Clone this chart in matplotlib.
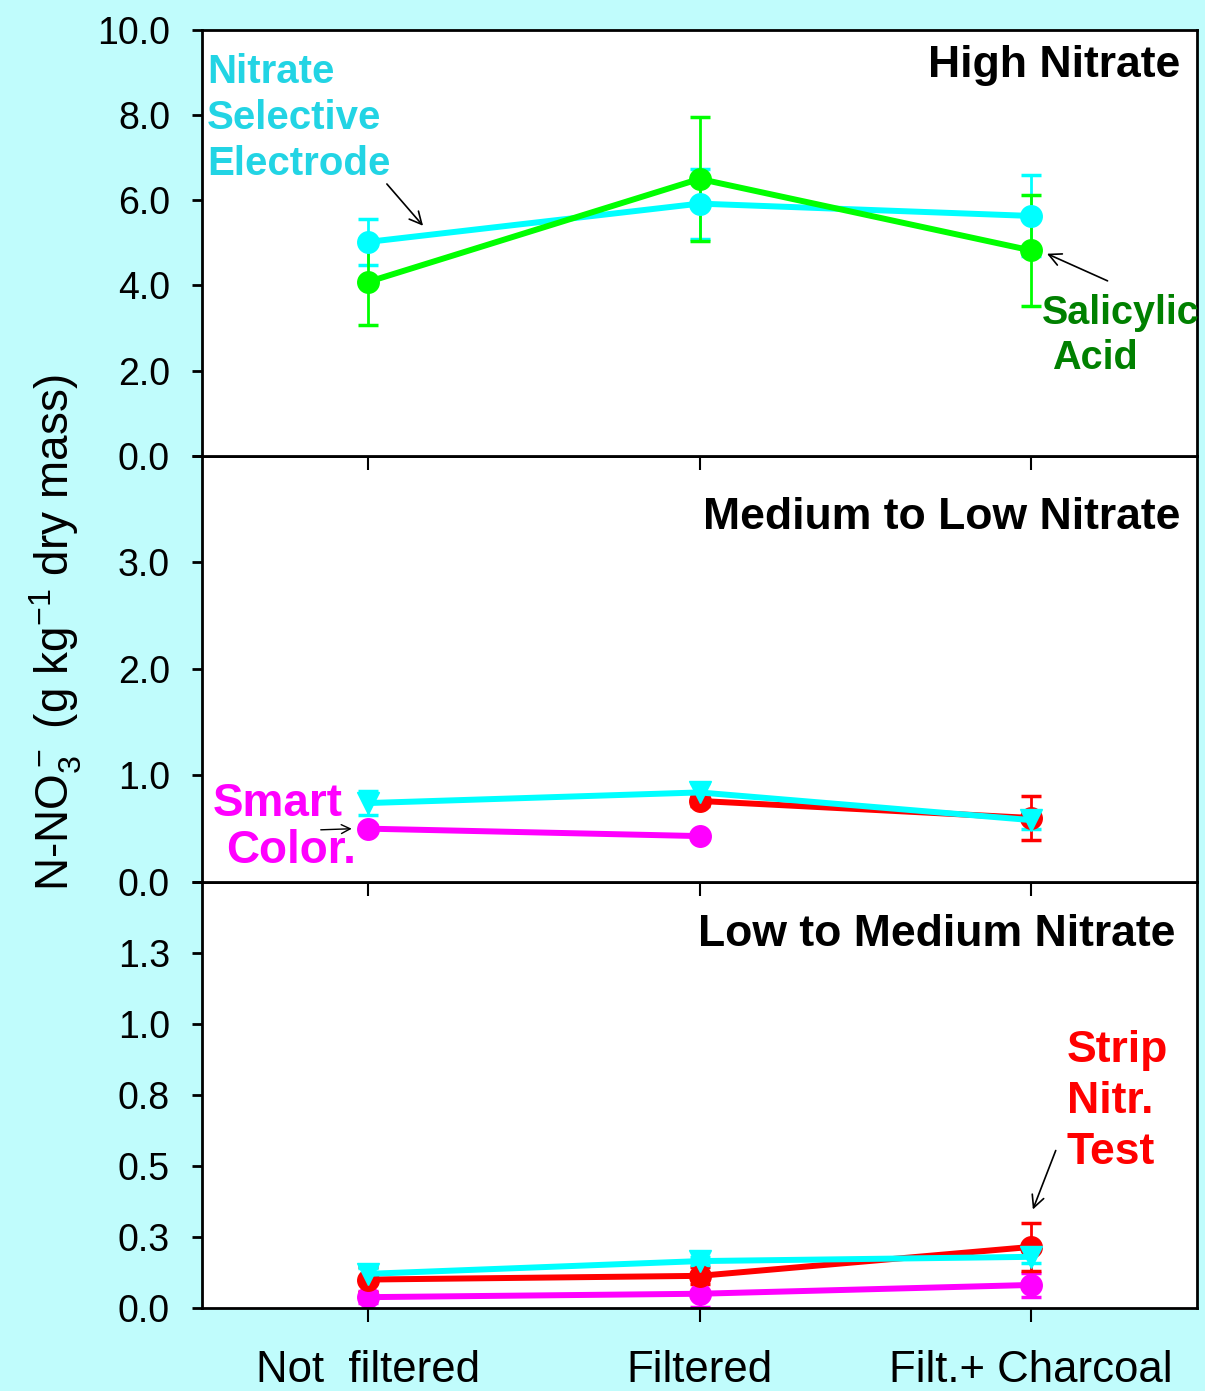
import matplotlib
matplotlib.use("Agg")
import matplotlib.pyplot as plt
import numpy as np

plt.rcParams["font.family"] = ["Liberation Sans", "DejaVu Sans"]
plt.rcParams["mathtext.default"] = "regular"

# treatments on the x axis
treatments = ["Not  filtered", "Filtered", "Filt.+ Charcoal"]

# high nitrate panel
ise_high = [5.02, 5.92, 5.63]
ise_high_err = [0.54, 0.82, 0.95]
sal_high = [4.08, 6.50, 4.82]
sal_high_err = [1.00, 1.45, 1.30]

# medium to low nitrate panel (nan = not measured)
ise_mid = [0.74, 0.84, 0.58]
ise_mid_err = [0.11, 0.09, 0.08]
strip_mid = [np.nan, 0.76, 0.60]
strip_mid_err = [np.nan, 0.05, 0.21]
smart_mid = [0.50, 0.43, np.nan]
smart_mid_err = [0.03, 0.03, np.nan]

# low to medium nitrate panel
ise_low = [0.12, 0.165, 0.18]
ise_low_err = [0.02, 0.015, 0.02]
strip_low = [0.10, 0.113, 0.215]
strip_low_err = [0.043, 0.03, 0.085]
smart_low = [0.038, 0.05, 0.081]
smart_low_err = [0.02, 0.047, 0.042]

high_ticks = [0, 2, 4, 6, 8, 10]
high_labels = ["0.0", "2.0", "4.0", "6.0", "8.0", "10.0"]
mid_ticks = [0, 1, 2, 3, 4]
mid_labels = ["0.0", "1.0", "2.0", "3.0", ""]
low_ticks = [0, 0.25, 0.5, 0.75, 1.0, 1.25, 1.5]
low_labels = ["0.0", "0.3", "0.5", "0.8", "1.0", "1.3", ""]

CYAN = "#00ffff"
GREEN = "#00ff00"
RED = "#ff0000"
MAGENTA = "#ff00ff"
BG = "#c0fcfc"

x = np.arange(len(treatments))

fig = plt.figure(figsize=(12.05, 13.91), dpi=100, facecolor=BG)
left, width = 0.1676, 0.8258
h = 0.3063
# build bottom-up so upper panels' outward x ticks stay visible
ax3 = fig.add_axes([left, 0.0597, width, h])
ax2 = fig.add_axes([left, 0.0597 + h, width, h])
ax1 = fig.add_axes([left, 0.0597 + 2 * h, width, h])


def series(ax, y, err, color, marker):
    ax.errorbar(x, y, yerr=err, color=color, marker=marker, ms=15.5, lw=4.3,
                elinewidth=2, capsize=7, capthick=2.5, clip_on=False)


series(ax1, ise_high, ise_high_err, CYAN, "o")
series(ax1, sal_high, sal_high_err, GREEN, "o")

series(ax2, smart_mid, smart_mid_err, MAGENTA, "o")
series(ax2, strip_mid, strip_mid_err, RED, "o")
series(ax2, ise_mid, ise_mid_err, CYAN, "v")

series(ax3, smart_low, smart_low_err, MAGENTA, "o")
series(ax3, strip_low, strip_low_err, RED, "o")
series(ax3, ise_low, ise_low_err, CYAN, "v")

for ax, lim, ticks, labels in [(ax1, 10, high_ticks, high_labels),
                               (ax2, 4, mid_ticks, mid_labels),
                               (ax3, 1.5, low_ticks, low_labels)]:
    ax.set_xlim(-0.5, 2.5)
    ax.set_ylim(0, lim)
    ax.set_yticks(ticks)
    ax.set_yticklabels(labels)
    ax.set_xticks(x)
    ax.set_facecolor("white")
    for s in ax.spines.values():
        s.set_linewidth(2)
    ax.tick_params(axis="y", direction="out", length=7, width=2, pad=16,
                   labelsize=27)
    ax.tick_params(axis="x", direction="out", length=10, width=1.5, pad=20)

ax1.tick_params(axis="x", labelbottom=False)
ax2.tick_params(axis="x", labelbottom=False)
ax3.set_xticklabels(treatments, fontsize=31.5)

fig.text(0.046, 0.545, "N-NO$_3^-$ (g kg$^{-1}$ dry mass)", rotation=90,
         ha="center", va="center", fontsize=33)

# panel titles
ax1.text(0.983, 0.916, "High Nitrate", transform=ax1.transAxes, ha="right",
         va="center", fontsize=32, fontweight="bold")
ax2.text(0.983, 0.855, "Medium to Low Nitrate", transform=ax2.transAxes,
         ha="right", va="center", fontsize=32, fontweight="bold")
ax3.text(0.978, 0.876, "Low to Medium Nitrate", transform=ax3.transAxes,
         ha="right", va="center", fontsize=32, fontweight="bold")

# method labels
ax1.text(0.005, 0.793, "Nitrate\nSelective\nElectrode", transform=ax1.transAxes,
         ha="left", va="center", fontsize=29, fontweight="bold",
         color="#22d4e4", linespacing=1.27)
ax1.annotate("", xy=(0.224, 0.535), xycoords="axes fraction",
             xytext=(0.184, 0.643), textcoords="axes fraction",
             arrowprops=dict(arrowstyle="->", color="black", lw=1.2,
                             mutation_scale=22))
ax1.text(0.844, 0.336, "Salicylic", transform=ax1.transAxes, ha="left",
         va="center", fontsize=28.5, fontweight="bold", color="#008000",
         clip_on=False)
ax1.text(0.854, 0.230, "Acid", transform=ax1.transAxes, ha="left",
         va="center", fontsize=28.5, fontweight="bold", color="#008000")
ax1.annotate("", xy=(x[2] + 0.04, sal_high[2] - 0.05),
             xytext=(0.9126, 0.408), textcoords="axes fraction",
             arrowprops=dict(arrowstyle="->", color="black", lw=1.2,
                             mutation_scale=22))

ax2.text(0.011, 0.182, "Smart", transform=ax2.transAxes, ha="left",
         va="center", fontsize=33, fontweight="bold", color=MAGENTA)
ax2.text(0.024, 0.073, "Color.", transform=ax2.transAxes, ha="left",
         va="center", fontsize=33, fontweight="bold", color=MAGENTA)
ax2.annotate("", xy=(x[0] - 0.04, smart_mid[0]),
             xytext=(0.1166, 0.122), textcoords="axes fraction",
             arrowprops=dict(arrowstyle="->", color="black", lw=1.0,
                             mutation_scale=16))

ax3.text(0.869, 0.484, "Strip\nNitr.\nTest", transform=ax3.transAxes,
         ha="left", va="center", fontsize=32, fontweight="bold", color=RED,
         linespacing=1.31)
ax3.annotate("", xy=(0.834, 0.225), xycoords="axes fraction",
             xytext=(0.859, 0.3756), textcoords="axes fraction",
             arrowprops=dict(arrowstyle="->", color="black", lw=1.2,
                             mutation_scale=22))

fig.savefig("out.png", dpi=100, facecolor=BG)
